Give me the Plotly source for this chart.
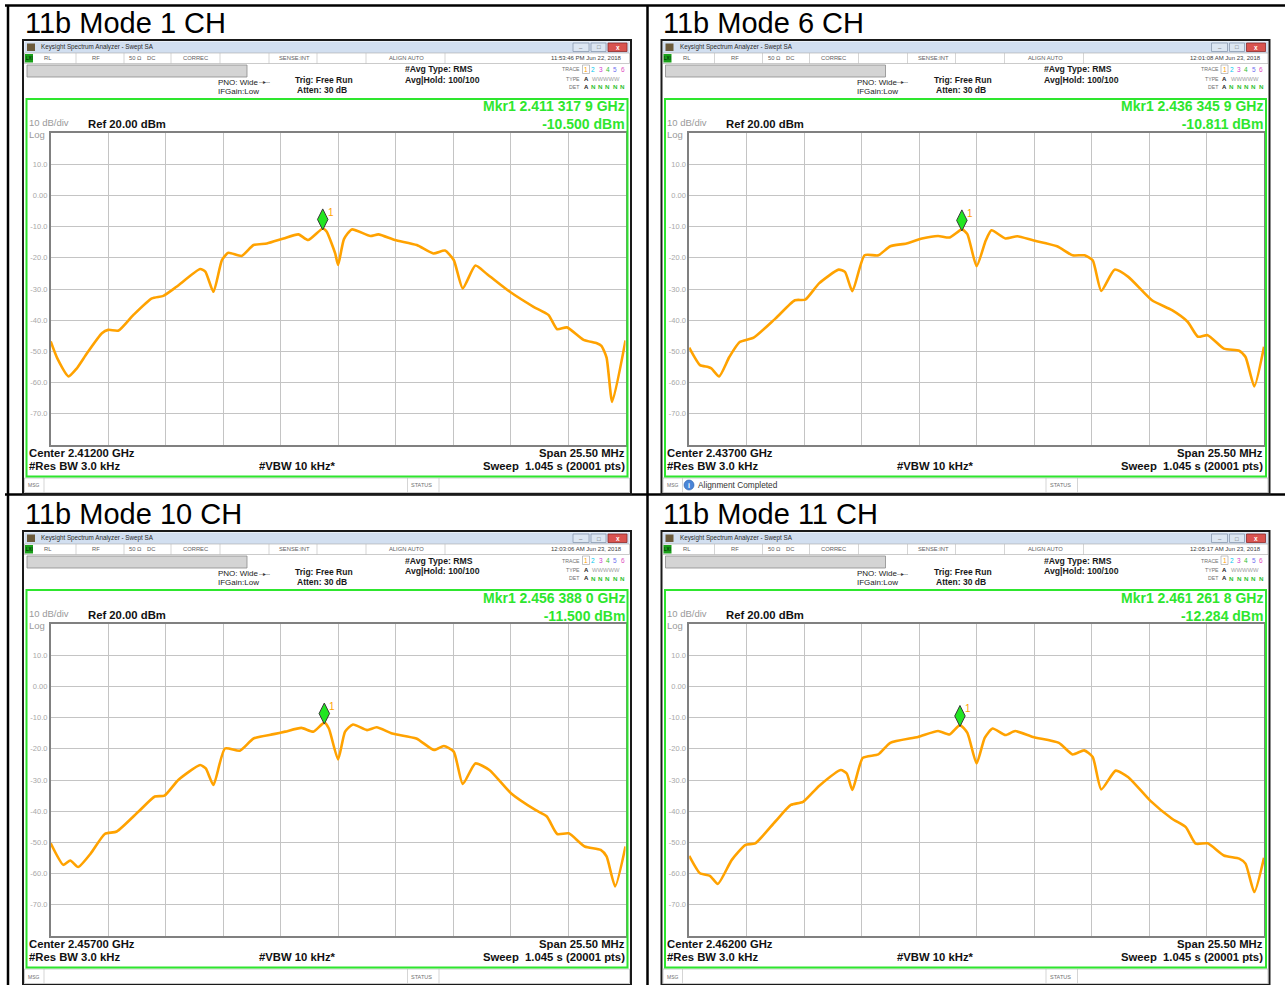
import plotly.graph_objects as go

W, H = 1285, 985

# ---------------- data ----------------
titles = ["11b Mode 1 CH", "11b Mode 6 CH", "11b Mode 10 CH", "11b Mode 11 CH"]
center_ghz = [2.41200, 2.43700, 2.45700, 2.46200]
span_mhz = 25.50
ref_dbm = 20.00
db_per_div = 10
timestamps = ["11:53:46 PM Jun 22, 2018", "12:01:08 AM Jun 23, 2018",
              "12:03:06 AM Jun 23, 2018", "12:05:17 AM Jun 23, 2018"]
mkr_freq_ghz = [2.4113179, 2.4363459, 2.4563880, 2.4612618]
mkr_level_dbm = [-10.500, -10.811, -11.500, -12.284]
msg_texts = ["", "Alignment Completed", "", ""]
res_bw_text = "#Res BW 3.0 kHz"
vbw_text = "#VBW 10 kHz*"
sweep_text = "Sweep\u00a0\u00a01.045 s (20001 pts)"

y_ticks = [10, 0, -10, -20, -30, -40, -50, -60, -70]
y_tick_labels = ["10.0", "0.00", "-10.0", "-20.0", "-30.0", "-40.0", "-50.0", "-60.0", "-70.0"]

# frequency offset from center (MHz) and level (dBm), read from the screens
ch1_offset_mhz = [-12.75, -12.44, -11.96, -11.60, -11.14, -10.48, -10.20, -9.74, -9.08, -8.26,
                  -7.75, -7.17, -6.12, -5.89, -5.53, -5.15, -4.87, -4.28, -3.75, -3.16,
                  -2.42, -1.76, -1.33, -0.68, -0.51, -0.13, 0.00, 0.26, 0.61, 1.43,
                  1.79, 2.52, 3.49, 4.23, 4.74, 5.13, 5.53, 6.09, 6.60, 7.62,
                  8.67, 9.33, 9.72, 10.15, 10.89, 11.48, 11.68, 11.91, 12.16, 12.75]
ch1_level_dbm = [-46.8, -52.5, -58.0, -55.5, -50.6, -44.2, -43.1, -43.3, -38.3, -33.0,
                 -32.2, -29.3, -23.6, -24.4, -30.9, -20.7, -18.4, -19.4, -15.9, -15.4,
                 -13.8, -12.5, -14.3, -10.6, -11.6, -18.6, -22.3, -14.0, -10.9, -13.0,
                 -12.5, -14.3, -15.9, -18.6, -17.7, -20.7, -29.8, -22.5, -25.2, -30.9,
                 -35.7, -38.3, -42.9, -42.3, -46.3, -47.4, -48.2, -52.0, -66.2, -46.5]

ch6_offset_mhz = [-12.75, -12.27, -11.91, -11.76, -11.42, -10.97, -10.51, -9.89, -8.93, -8.06,
                  -7.60, -6.99, -6.12, -5.84, -5.51, -4.97, -4.36, -3.83, -3.11, -2.42,
                  -1.71, -1.20, -0.65, -0.41, 0.00, 0.41, 0.66, 1.28, 1.81, 2.50,
                  3.57, 4.26, 4.79, 5.15, 5.53, 6.12, 6.73, 7.78, 8.67, 9.36,
                  9.82, 10.25, 10.97, 11.65, 11.93, 12.32, 12.75]
ch6_level_dbm = [-48.8, -54.4, -55.0, -55.5, -58.0, -51.8, -47.0, -45.6, -39.5, -33.6,
                 -33.4, -28.2, -23.8, -24.5, -30.7, -19.2, -19.2, -16.3, -15.4, -13.8,
                 -13.0, -13.5, -10.9, -12.4, -22.7, -14.4, -11.2, -13.8, -13.1, -14.4,
                 -16.3, -19.2, -19.2, -20.8, -30.6, -23.8, -26.1, -33.6, -36.8, -40.5,
                 -45.3, -44.8, -49.1, -49.8, -51.8, -61.2, -48.5]

ch10_offset_mhz = [-12.75, -12.19, -11.88, -11.53, -10.97, -10.35, -9.82, -8.85, -8.13, -7.70,
                   -7.09, -6.12, -5.87, -5.53, -5.02, -4.36, -3.75, -2.86, -2.35, -1.63,
                   -1.10, -0.61, -0.41, 0.00, 0.31, 0.66, 1.28, 1.71, 2.40, 3.47,
                   4.26, 4.69, 5.13, 5.53, 6.09, 6.71, 7.68, 8.75, 9.26, 9.72,
                   10.23, 10.94, 11.65, 11.91, 12.29, 12.75]
ch10_level_dbm = [-50.3, -57.2, -55.8, -57.9, -53.5, -47.3, -46.5, -40.1, -35.3, -35.0,
                  -30.0, -25.2, -26.3, -31.6, -19.9, -20.6, -16.7, -15.3, -14.5, -13.3,
                  -14.5, -11.6, -13.5, -23.4, -14.5, -12.2, -14.0, -13.1, -15.1, -16.7,
                  -20.4, -19.1, -20.9, -31.3, -24.7, -26.8, -34.3, -39.6, -41.7, -47.3,
                  -47.1, -51.3, -52.4, -54.5, -64.1, -51.3]

ch11_offset_mhz = [-12.75, -12.27, -11.83, -11.48, -10.86, -10.25, -9.82, -8.93, -8.24, -7.70,
                   -6.99, -6.02, -5.76, -5.51, -5.05, -4.36, -3.83, -2.60, -1.71, -1.20,
                   -0.74, -0.41, 0.00, 0.36, 0.71, 1.28, 1.71, 2.50, 3.65, 4.26,
                   4.77, 5.15, 5.53, 6.17, 6.73, 7.70, 8.67, 9.28, 9.72, 10.25,
                   10.97, 11.65, 11.93, 12.32, 12.75]
ch11_level_dbm = [-54.3, -59.9, -60.7, -63.3, -55.6, -50.8, -50.3, -43.3, -38.0, -37.0,
                  -31.9, -26.8, -27.9, -33.2, -22.9, -21.8, -18.1, -16.2, -14.3, -15.4,
                  -12.4, -14.9, -24.7, -16.5, -13.5, -15.6, -14.3, -16.2, -18.1, -21.8,
                  -20.5, -22.6, -33.0, -27.0, -29.1, -36.6, -42.4, -45.1, -50.4, -50.3,
                  -54.2, -55.2, -56.8, -65.9, -54.9]

trace_offsets = [ch1_offset_mhz, ch6_offset_mhz, ch10_offset_mhz, ch11_offset_mhz]
trace_levels = [ch1_level_dbm, ch6_level_dbm, ch10_level_dbm, ch11_level_dbm]

# ---------------- styling / geometry ----------------
FONT = "Liberation Sans, Arial, sans-serif"
TRACE_COLOR = "#FFA200"
GRID = "#C4C4C4"
BORDER = "#808080"
GREEN = "#2EE62E"
DARK = "#1A1A1A"
MKR_LIFT_DB = 2.8

panel_dx = [0, 638.5, 0, 638.5]
panel_dy = [0, 0, 491, 491]
PLOT_X0, PLOT_X1 = 50.7, 625.5
PLOT_Y0, PLOT_Y1 = 133.0, 445.0

shapes, annotations = [], []


def fx(px):
    return px / W


def fy(py):
    return 1 - py / H


def rect(x0, y0, x1, y1, fill="rgba(0,0,0,0)", line=None, lw=1.0, layer="below"):
    shapes.append(dict(type="rect", xref="paper", yref="paper",
                       x0=fx(x0), x1=fx(x1), y0=fy(y1), y1=fy(y0),
                       fillcolor=fill, layer=layer,
                       line=dict(color=line if line else "rgba(0,0,0,0)", width=lw if line else 0)))


def seg(x0, y0, x1, y1, color, lw=1.0, layer="below"):
    shapes.append(dict(type="line", xref="paper", yref="paper",
                       x0=fx(x0), x1=fx(x1), y0=fy(y0), y1=fy(y1), layer=layer,
                       line=dict(color=color, width=lw)))


def text(x, y, s, size=8.0, color=DARK, bold=False, xanchor="left", family=FONT, align="left"):
    annotations.append(dict(xref="paper", yref="paper", x=fx(x), y=fy(y),
                            text=f"<b>{s}</b>" if bold else s, showarrow=False,
                            xanchor=xanchor, yanchor="middle", borderpad=0, align=align,
                            font=dict(size=size, color=color, family=family)))


# global frame lines
seg(5, 5.5, 1285, 5.5, "#000", 2.5)
seg(8, 5, 8, 985, "#000", 2.5)
seg(647.5, 5, 647.5, 985, "#000", 2.5)
seg(5, 494.5, 1285, 494.5, "#000", 2.5)

trace_digit_colors = ["#FFA000", "#00C8F0", "#D040D0", "#30C030", "#7070F0", "#E050C0"]

fig = go.Figure()
layout_axes = {}

for i in range(4):
    dx, dy = panel_dx[i], panel_dy[i]
    X = lambda v, dx=dx: v + dx
    Y = lambda v, dy=dy: v + dy

    # title
    text(X(24), Y(23), titles[i], size=29, color="#000")

    # analyzer window
    rect(X(23), Y(40), X(631), Y(494), fill="#FFFFFF", line="#1A1A1A", lw=2)
    rect(X(24.5), Y(41.5), X(629.5), Y(53), fill="#D2DFF0")
    rect(X(27), Y(43.5), X(35), Y(51), fill="#6B5A3A")
    text(X(40), Y(47.3), "Keysight Spectrum Analyzer - Swept SA", size=6.3, color="#2A2A2A")
    rect(X(573), Y(43), X(589), Y(51.5), fill="#DCE6F2", line="#8A9BB0", lw=0.8)
    rect(X(591), Y(43), X(606), Y(51.5), fill="#DCE6F2", line="#8A9BB0", lw=0.8)
    rect(X(608), Y(43), X(627), Y(51.5), fill="#D9534F", line="#8E2B2B", lw=0.8)
    text(X(581), Y(48), "\u2013", size=6, color="#555", xanchor="center")
    text(X(598.5), Y(47.5), "\u25a1", size=6, color="#555", xanchor="center")
    text(X(617.5), Y(47.3), "x", size=6.5, color="#FFFFFF", bold=True, xanchor="center")

    # status row
    rect(X(24.5), Y(53), X(629.5), Y(63.5), fill="#FFFFFF", line="#A8A8A8", lw=0.6)
    rect(X(25), Y(54), X(33), Y(62.5), fill="#19A019")
    text(X(29), Y(58.3), "LXI", size=4.5, color="#000", xanchor="center")
    for sx in [76, 124, 171, 220, 269, 317, 366, 445]:
        seg(X(sx), Y(53), X(sx), Y(63.5), "#B8B8B8", 0.6)
    for lbl, sx in [("RL", 43), ("RF", 91), ("50 \u03a9", 128), ("DC", 146), ("CORREC", 182),
                    ("SENSE:INT", 278), ("ALIGN AUTO", 388)]:
        text(X(sx), Y(58.3), lbl, size=5.8, color="#606060")
    text(X(623), Y(58.3), timestamps[i], size=6.0, color="#404040", xanchor="right")

    # settings area
    rect(X(27), Y(65), X(247), Y(77), fill="#D4D4D4", line="#8C8C8C", lw=0.8)
    text(X(217), Y(82.5), "PNO: Wide", size=8, color="#222")
    text(X(217), Y(91.5), "IFGain:Low", size=8, color="#222")
    text(X(264), Y(82.5), "--\u25b8--", size=6, color="#333", xanchor="center")
    text(X(294), Y(80.5), "Trig: Free Run", size=8.5, bold=True)
    text(X(296), Y(90.5), "Atten: 30 dB", size=8.5, bold=True)
    text(X(404), Y(69.5), "#Avg Type: RMS", size=8.7, bold=True)
    text(X(404), Y(80), "Avg|Hold: 100/100", size=8.7, bold=True)

    text(X(581), Y(69.5), "TRACE", size=5.2, color="#707070", xanchor="right")
    text(X(581), Y(78.5), "TYPE", size=5.2, color="#707070", xanchor="right")
    text(X(581), Y(87), "DET", size=5.2, color="#707070", xanchor="right")
    rect(X(582.5), Y(65), X(589.5), Y(73.5), line="#9A9A9A", lw=0.6)
    for k, col in enumerate(trace_digit_colors):
        text(X(586 + 7.3 * k), Y(69.5), str(k + 1), size=6.5, color=col, xanchor="center")
    text(X(586), Y(78.5), "A", size=6, color="#222", bold=True, xanchor="center")
    text(X(591), Y(78.5), "WWWWW", size=5.8, color="#A0A0A0")
    text(X(586), Y(87), "A", size=6, color="#222", bold=True, xanchor="center")
    for k in range(5):
        text(X(593.3 + 7.3 * k), Y(87), "N", size=6.2, color="#30C030", bold=True, xanchor="center")

    # measurement area (green frame)
    rect(X(26.5), Y(99), X(627.5), Y(476.5), line=GREEN, lw=2, layer="above")
    s = f"{mkr_freq_ghz[i]:.7f}"
    text(X(625.5), Y(115.5),
         f"Mkr1 {s[:5]} {s[5:8]} {s[8:]} GHz<br>{mkr_level_dbm[i]:.3f} dBm",
         size=14, color=GREEN, bold=True, xanchor="right", align="right")
    text(X(27.5), Y(128), f"{db_per_div} dB/div<br>Log", size=9.5, color="#9A9A9A")
    text(X(86.5), Y(124.3), f"Ref {ref_dbm:.2f} dBm", size=11.3, bold=True, color="#111")

    text(X(27.5), Y(453), f"Center {center_ghz[i]:.5f} GHz", size=11.3, bold=True, color="#111")
    text(X(27.5), Y(466), res_bw_text, size=11.3, bold=True, color="#111")
    text(X(257.5), Y(466), vbw_text, size=11.3, bold=True, color="#111")
    text(X(625.5), Y(453), f"Span {span_mhz:.2f} MHz", size=11.3, bold=True, color="#111",
         xanchor="right")
    text(X(625.5), Y(466), sweep_text, size=11.3, bold=True, color="#111", xanchor="right")

    # message row
    rect(X(24.5), Y(478), X(629.5), Y(492.5), fill="#FFFFFF", line="#A8A8A8", lw=0.6)
    for sx in [44, 407.5, 439]:
        seg(X(sx), Y(478), X(sx), Y(492.5), "#B8B8B8", 0.6)
    text(X(27), Y(485.5), "MSG", size=5, color="#707070")
    text(X(410.5), Y(485.5), "STATUS", size=5.5, color="#707070")
    if msg_texts[i]:
        shapes.append(dict(type="circle", xref="paper", yref="paper",
                           x0=fx(X(45.5)), x1=fx(X(55.5)), y0=fy(Y(490)), y1=fy(Y(480)),
                           fillcolor="#4A86D8", line=dict(color="#2C5EA8", width=0.6), layer="below"))
        text(X(50.5), Y(485.2), "i", size=7, color="#FFFFFF", bold=True, xanchor="center")
        text(X(58), Y(485.5), msg_texts[i], size=8.3, color="#333")

    # plot
    xa = "x" if i == 0 else f"x{i + 1}"
    ya = "y" if i == 0 else f"y{i + 1}"
    fig.add_trace(go.Scatter(x=trace_offsets[i], y=trace_levels[i], mode="lines",
                             line=dict(color=TRACE_COLOR, width=2.6, shape="spline", smoothing=0.55),
                             xaxis=xa, yaxis=ya, hoverinfo="skip", showlegend=False))
    mk_x = (mkr_freq_ghz[i] - center_ghz[i]) * 1000.0
    fig.add_trace(go.Scatter(x=[mk_x], y=[mkr_level_dbm[i] + MKR_LIFT_DB], mode="markers",
                             marker=dict(symbol="diamond-tall", size=15, color="#22E622",
                                         line=dict(color="#3A3A3A", width=1)),
                             xaxis=xa, yaxis=ya, hoverinfo="skip", showlegend=False))
    annotations.append(dict(xref=xa, yref=ya, x=mk_x, y=mkr_level_dbm[i] + MKR_LIFT_DB,
                            text="1", showarrow=False, xshift=8, yshift=7,
                            font=dict(size=10, color=TRACE_COLOR, family=FONT)))

    xname = "xaxis" if i == 0 else f"xaxis{i + 1}"
    yname = "yaxis" if i == 0 else f"yaxis{i + 1}"
    layout_axes[xname] = dict(domain=[fx(X(PLOT_X0)), fx(X(PLOT_X1))],
                              range=[-span_mhz / 2, span_mhz / 2],
                              tick0=-span_mhz / 2, dtick=span_mhz / 10,
                              showticklabels=False, ticks="",
                              showgrid=True, gridcolor=GRID, gridwidth=1.2, zeroline=False,
                              showline=True, linecolor=BORDER, linewidth=1.5, mirror=True,
                              anchor=ya, fixedrange=True)
    layout_axes[yname] = dict(domain=[fy(Y(PLOT_Y1)), fy(Y(PLOT_Y0))],
                              range=[ref_dbm - 10 * db_per_div, ref_dbm],
                              tickvals=y_ticks, ticktext=y_tick_labels, ticks="",
                              tickfont=dict(size=7.5, color="#A8A8A8", family=FONT),
                              showgrid=True, gridcolor=GRID, gridwidth=1.2, zeroline=False,
                              showline=True, linecolor=BORDER, linewidth=1.5, mirror=True,
                              anchor=xa, fixedrange=True)

fig.update_layout(width=W, height=H, margin=dict(l=0, r=0, t=0, b=0),
                  paper_bgcolor="#FFFFFF", plot_bgcolor="rgba(0,0,0,0)",
                  showlegend=False, shapes=shapes, annotations=annotations,
                  font=dict(family=FONT), **layout_axes)

fig.write_html("out.html", config={"displayModeBar": False},
               post_script="document.body.style.margin='0px';document.body.style.overflow='hidden';")
